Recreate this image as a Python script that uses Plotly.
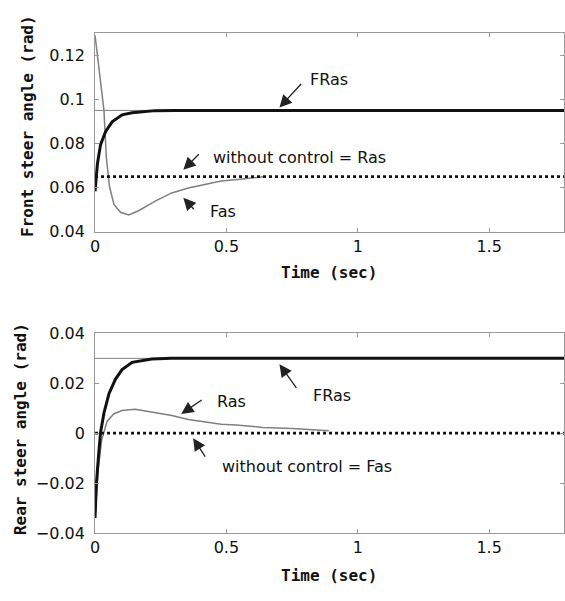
import plotly.graph_objects as go

# ---------------- data ----------------
# Front (top) panel
t_fr_front = [0, 0.009, 0.021, 0.04, 0.065, 0.103, 0.141, 0.179, 0.229, 0.3, 1.8]
y_fr_front = [0.0583, 0.0707, 0.0795, 0.0854, 0.0898, 0.093, 0.0939, 0.0944, 0.0949, 0.095, 0.095]

t_fas_front = [0, 0.034, 0.043, 0.055, 0.072, 0.097, 0.128, 0.166, 0.229, 0.292, 0.355, 0.418, 0.48, 0.543, 0.6, 0.65]
y_fas_front = [0.129, 0.095, 0.0737, 0.0605, 0.0524, 0.0488, 0.0476, 0.0495, 0.0539, 0.0576, 0.0598, 0.0615, 0.063, 0.0637, 0.0645, 0.065]

t_noctl_front = [0, 1.8]
y_noctl_front = [0.065, 0.065]

t_ref_front = [0, 1.8]
y_ref_front = [0.095, 0.095]

# Rear (bottom) panel
t_fr_rear = [0, 0.005, 0.0126, 0.021, 0.034, 0.053, 0.078, 0.103, 0.141, 0.179, 0.216, 0.29, 1.8]
y_fr_rear = [-0.034, -0.0204, -0.01, 0.0003, 0.0081, 0.0158, 0.0217, 0.0255, 0.0284, 0.0292, 0.0297, 0.03, 0.03]

t_ras_rear = [0, 0.0126, 0.025, 0.046, 0.072, 0.103, 0.153, 0.229, 0.292, 0.355, 0.418, 0.48, 0.537, 0.638, 0.75, 0.89]
y_ras_rear = [-0.034, -0.014, -0.0029, 0.0048, 0.0078, 0.0091, 0.0096, 0.0083, 0.0071, 0.0055, 0.0045, 0.0036, 0.0033, 0.0023, 0.0019, 0.001]

t_noctl_rear = [0, 1.8]
y_noctl_rear = [0, 0]

t_ref_rear = [0, 1.8]
y_ref_rear = [0.03, 0.03]

x_ticks = [0, 0.5, 1, 1.5]
x_tick_labels = ["0", "0.5", "1", "1.5"]
y_ticks_front = [0.04, 0.06, 0.08, 0.1, 0.12]
y_tick_labels_front = ["0.04", "0.06", "0.08", "0.1", "0.12"]
y_ticks_rear = [-0.04, -0.02, 0, 0.02, 0.04]
y_tick_labels_rear = ["\u22120.04", "\u22120.02", "0", "0.02", "0.04"]

# ---------------- figure ----------------
W, H = 565, 601
FONT = "DejaVu Sans"
MONO = "DejaVu Sans Mono"
TXT = "#111"
GRAY = "#808080"

fig = go.Figure()

def add(t, y, xa, ya, color, width, dash="solid"):
    fig.add_trace(go.Scatter(x=t, y=y, xaxis=xa, yaxis=ya, mode="lines",
                             line=dict(color=color, width=width, dash=dash),
                             showlegend=False, hoverinfo="skip"))

# top panel
add(t_ref_front, y_ref_front, "x", "y", GRAY, 1)
add(t_fas_front, y_fas_front, "x", "y", GRAY, 1.5)
add(t_noctl_front, y_noctl_front, "x", "y", "#111", 2.8, "dot")
add(t_fr_front, y_fr_front, "x", "y", "#111", 3)

# bottom panel
add(t_ref_rear, y_ref_rear, "x2", "y2", GRAY, 1)
add(t_ras_rear, y_ras_rear, "x2", "y2", GRAY, 1.5)
add(t_noctl_rear, y_noctl_rear, "x2", "y2", "#111", 2.8, "dot")
add(t_fr_rear, y_fr_rear, "x2", "y2", "#111", 3)

x_dom = [91 / W, 1.0]
y_dom_top = [(H - 230) / H, (H - 25) / H]
y_dom_bot = [(H - 541) / H, (H - 335) / H]

axis_common = dict(showline=True, mirror="ticks", linecolor="#999", linewidth=1,
                   ticks="inside", ticklen=4, tickcolor="#999", showgrid=False,
                   zeroline=False, tickfont=dict(family=FONT, size=16, color=TXT))

fig.update_layout(
    width=W, height=H,
    margin=dict(l=0, r=0, t=0, b=0),
    paper_bgcolor="white", plot_bgcolor="white",
    xaxis=dict(domain=x_dom, range=[0, 1.785], anchor="y", tickvals=x_ticks,
               ticktext=x_tick_labels, **axis_common),
    yaxis=dict(domain=y_dom_top, range=[0.04, 0.13], anchor="x", tickvals=y_ticks_front,
               ticktext=y_tick_labels_front, ticklabelstandoff=6, **axis_common),
    xaxis2=dict(domain=x_dom, range=[0, 1.785], anchor="y2", tickvals=x_ticks,
                ticktext=x_tick_labels, **axis_common),
    yaxis2=dict(domain=y_dom_bot, range=[-0.04, 0.04], anchor="x2", tickvals=y_ticks_rear,
                ticktext=y_tick_labels_rear, ticklabelstandoff=6, **axis_common),
)

anns = []
def label(text, x, y, xref, yref, xanchor="left", size=16):
    anns.append(dict(text=text, x=x, y=y, xref=xref, yref=yref, showarrow=False,
                     xanchor=xanchor, yanchor="middle",
                     font=dict(family=FONT, size=size, color=TXT)))

def arrow(x, y, ax, ay, xref, yref):
    anns.append(dict(text="", x=x, y=y, ax=ax, ay=ay, xref=xref, yref=yref,
                     showarrow=True, arrowhead=2, arrowsize=1.9, arrowwidth=1.3,
                     arrowcolor="#222", standoff=0))

# top annotations
label("FRas", 0.89, 0.1089, "x", "y", "center")
arrow(0.702, 0.0963, 23, -25, "x", "y")
label("without control = Ras", 0.4415, 0.0738, "x", "y")
arrow(0.336, 0.0681, 17, -17, "x", "y")
label("Fas", 0.43, 0.0492, "x", "y")
arrow(0.336, 0.0554, 12, 13, "x", "y")

# bottom annotations
label("FRas", 0.902, 0.0151, "x2", "y2", "center")
arrow(0.702, 0.0276, 18, 25, "x2", "y2")
label("Ras", 0.4566, 0.0128, "x2", "y2")
arrow(0.328, 0.0077, 22, -15, "x2", "y2")
label("without control = Fas", 0.475, -0.0132, "x2", "y2")
arrow(0.3736, -0.002, 13, 20, "x2", "y2")

# axis titles
def ptitle(text, px, py, angle=0):
    anns.append(dict(text="<b>" + text + "</b>", x=px / W, y=1 - py / H, xref="paper", yref="paper",
                     showarrow=False, xanchor="center", yanchor="middle", textangle=angle,
                     font=dict(family=MONO, size=16, color=TXT)))

ptitle("Time (sec)", 327, 272)
ptitle("Time (sec)", 327, 585)
ptitle("Front steer angle (rad)", 22, 121, -90)
ptitle("Rear steer angle (rad)", 15, 434, -90)

fig.update_layout(annotations=anns)
fig.write_html("out.html")
